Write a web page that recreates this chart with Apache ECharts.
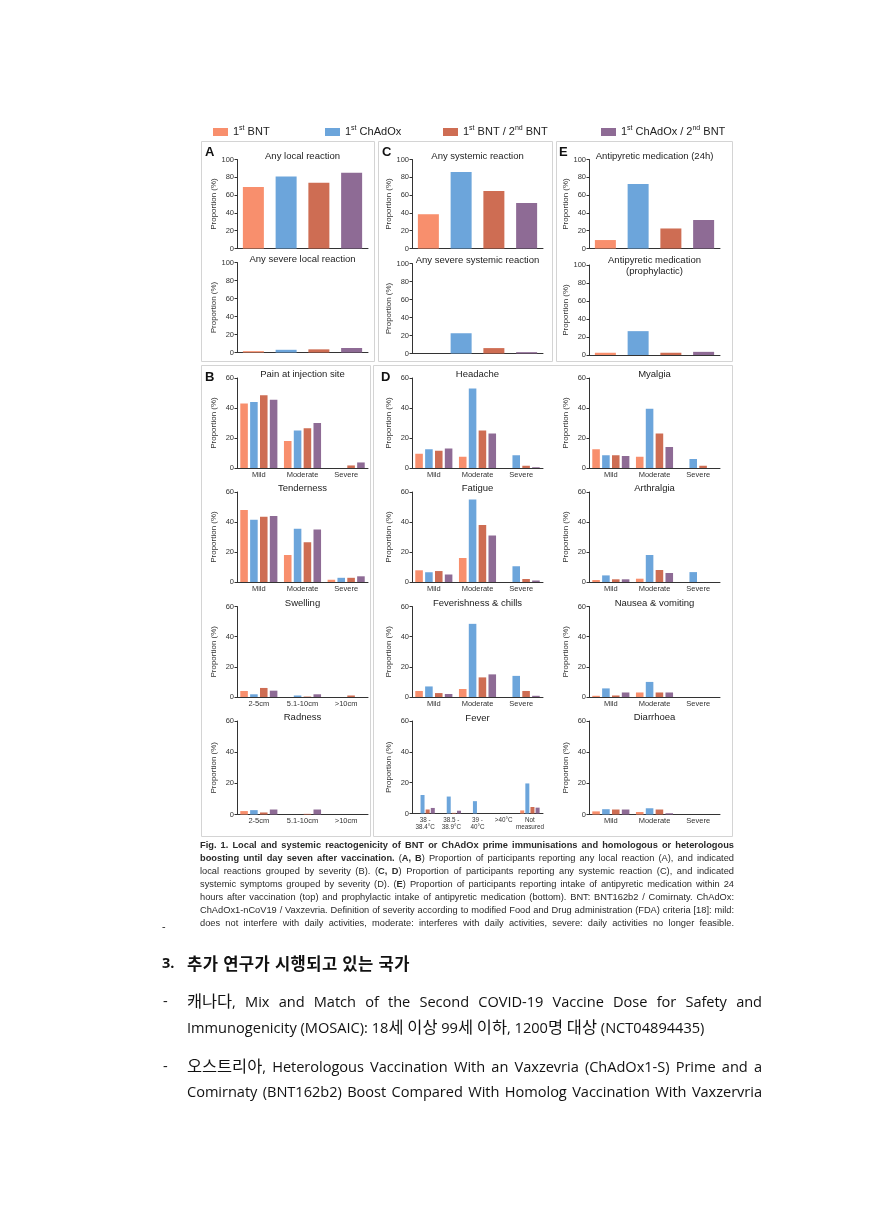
<!DOCTYPE html>
<html><head><meta charset="utf-8">
<script src="https://cdn.jsdelivr.net/npm/echarts@6/dist/echarts.min.js"></script>
<style>
html,body{margin:0;padding:0;background:#fff;}
#chart{position:absolute;left:0;top:0;width:869px;height:1229px;}
.cap{position:absolute;left:200px;width:534px;font-family:"Liberation Sans",Arial,sans-serif;font-size:9.4px;color:#2a2a2a;}
.cap div{height:13px;line-height:13px;text-align:justify;text-align-last:justify;white-space:nowrap;}
.kr{position:absolute;font-family:"Open Sans","Noto Sans CJK KR",sans-serif;color:#111;font-size:14.6px;}
.kr .ln{height:26px;line-height:26px;text-align:justify;text-align-last:justify;white-space:nowrap;}
.kr .last{text-align-last:left;}
.h{font-family:"Noto Sans CJK KR",sans-serif;font-size:16.4px;}
.hd .h{font-size:16.6px;letter-spacing:0.4px;}
</style></head>
<body>
<div id="chart"></div>
<div class="cap" id="cap" style="top:839px">
<div><b>Fig. 1. Local and systemic reactogenicity of BNT or ChAdOx prime immunisations and homologous or heterologous</b></div>
<div><b>boosting until day seven after vaccination.</b> (<b>A, B</b>) Proportion of participants reporting any local reaction (A), and indicated</div>
<div>local reactions grouped by severity (B). (<b>C, D</b>) Proportion of participants reporting any systemic reaction (C), and indicated</div>
<div>systemic symptoms grouped by severity (D). (<b>E</b>) Proportion of participants reporting intake of antipyretic medication within 24</div>
<div>hours after vaccination (top) and prophylactic intake of antipyretic medication (bottom). BNT: BNT162b2 / Comirnaty. ChAdOx:</div>
<div>ChAdOx1-nCoV19 / Vaxzevria. Definition of severity according to modified Food and Drug administration (FDA) criteria [18]: mild:</div>
<div>does not interfere with daily activities, moderate: interferes with daily activities, severe: daily activities no longer feasible.</div>
</div>
<div class="kr" style="left:162px;top:918px;font-size:11px;">-</div>
<div class="kr" style="left:162px;top:950px;font-weight:bold;line-height:26px;font-size:14.5px;">3.</div>
<div class="kr hd" style="left:187px;top:950px;font-weight:bold;line-height:26px;font-size:14.5px;word-spacing:1px;">추가 연구가 시행되고 있는 국가</div>
<div class="kr" style="left:163px;top:987px;line-height:26px;">-</div>
<div class="kr para" style="left:187px;top:987px;width:575px;">
<div class="ln">캐나다, Mix and Match of the Second COVID-19 Vaccine Dose for Safety and</div>
<div class="ln last">Immunogenicity (MOSAIC): 18세 이상 99세 이하, 1200명 대상 (NCT04894435)</div>
</div>
<div class="kr" style="left:163px;top:1052px;line-height:26px;">-</div>
<div class="kr para" style="left:187px;top:1052px;width:575px;">
<div class="ln">오스트리아, Heterologous Vaccination With an Vaxzevria (ChAdOx1-S) Prime and a</div>
<div class="ln">Comirnaty (BNT162b2) Boost Compared With Homolog Vaccination With Vaxzervria</div>
</div>
<script>
// ---------- data ----------
const seriesNames = ['1st BNT', '1st ChAdOx', '1st BNT / 2nd BNT', '1st ChAdOx / 2nd BNT'];
const severityCats = ['Mild', 'Moderate', 'Severe'];
const sizeCats = ['2-5cm', '5.1-10cm', '>10cm'];
const feverCats = ['38 -\n38.4°C', '38.5 -\n38.9°C', '39 -\n40°C', '>40°C', 'Not\nmeasured'];

// single-value panels: [1st BNT, 1st ChAdOx, BNT/BNT, ChAdOx/BNT]
const anyLocal = [69, 81, 74, 85];
const anySevereLocal = [1.5, 3, 3.5, 5];
const anySystemic = [38.5, 86, 64.5, 51];
const anySevereSystemic = [0, 22.5, 6, 1.5];
const antipyretic24h = [9.5, 72.5, 22.5, 32];
const antipyreticProph = [2.5, 26.5, 2.5, 3.5];

// grouped panels: rows = series, columns = categories
const pain = [[43, 18, 0], [44, 25, 0], [48.5, 26.5, 1.7], [45.5, 30, 3.7]];
const tenderness = [[48, 18, 1.5], [41.5, 35.5, 2.8], [43.5, 26.5, 2.8], [44, 35, 3.8]];
const swelling = [[4, 0, 0], [1.8, 1, 0], [6, 0.3, 1], [4.2, 1.8, 0]];
const redness = [[2.2, 0, 0], [2.8, 0, 0], [1.3, 0.4, 0], [3.2, 3.2, 0]];
const headache = [[9.5, 7.5, 0], [12.5, 53, 8.5], [11.5, 25, 1.5], [13, 23, 0.5]];
const fatigue = [[7.8, 16, 0], [6.5, 55, 10.5], [7.3, 38, 2], [5, 31, 1]];
const feverishness = [[4, 5.3, 0], [7, 48.5, 14], [2.6, 13, 4], [2, 15, 0.8]];
const fever = [[0, 0, 0, 0, 2], [12, 11, 8, 0, 19.5], [2.6, 0.4, 0, 0, 4.2], [3.6, 1.8, 0, 0, 3.8]];
const myalgia = [[12.5, 7.5, 0], [8.5, 39.5, 6], [8.5, 23, 1.5], [8, 14, 0]];
const arthralgia = [[1.3, 2.2, 0], [4.4, 18, 6.6], [1.8, 8, 0], [1.8, 6, 0]];
const nausea = [[0.8, 3, 0], [5.7, 10, 0], [1, 3, 0], [3, 3, 0]];
const diarrhoea = [[2, 1.6, 0], [3.4, 4, 0], [3.2, 3.2, 0], [3.2, 0.8, 0]];

// ---------- text fitting (Hangul spans, justified lines) ----------
document.querySelectorAll('.kr').forEach(el => {
  el.innerHTML = el.innerHTML.replace(/[\uAC00-\uD7A3]+/g, m => '<span class="h">' + m + '</span>');
});
function naturalWidth(line) {
  const s = document.createElement('span');
  s.style.whiteSpace = 'nowrap';
  s.innerHTML = line.innerHTML;
  line.innerHTML = '';
  line.appendChild(s);
  const w = s.getBoundingClientRect().width;
  line.innerHTML = s.innerHTML;
  return w;
}
function fitFont(box, width) {
  const base = parseFloat(getComputedStyle(box).fontSize);
  let mx = 0;
  box.querySelectorAll('div').forEach(l => { mx = Math.max(mx, naturalWidth(l)); });
  if (mx > width) box.style.fontSize = (base * width / mx * 0.99) + 'px';
}
function fitSpacing(box, width) {
  box.querySelectorAll('div').forEach(l => {
    const w = naturalWidth(l);
    if (w > width - 2) {
      const n = l.textContent.length;
      l.style.letterSpacing = ((width - 3 - w) / n) + 'px';
    }
  });
}
fitFont(document.getElementById('cap'), 534);
document.querySelectorAll('.para').forEach(p => fitSpacing(p, 575));

// ---------- style / layout ----------
const colors = ['#F88F6D', '#6CA5DB', '#CE6D53', '#8E6B95'];
const FONT = '"Liberation Sans", Arial, sans-serif';
const AX = '#333';
const W = 131;

const panels = [
  {t: 'Any local reaction', x: 237, top: 159.5, bot: 248.5, max: 100, single: anyLocal},
  {t: 'Any severe local reaction', x: 237, top: 262.5, bot: 352.5, max: 100, single: anySevereLocal},
  {t: 'Any systemic reaction', x: 412, top: 159.5, bot: 248.5, max: 100, single: anySystemic},
  {t: 'Any severe systemic reaction', x: 412, top: 263.5, bot: 353.5, max: 100, single: anySevereSystemic},
  {t: 'Antipyretic medication (24h)', x: 589, top: 159.5, bot: 248.5, max: 100, single: antipyretic24h},
  {t: 'Antipyretic medication\n(prophylactic)', x: 589, top: 265, bot: 355, max: 100, single: antipyreticProph, ty: 266},
  {t: 'Pain at injection site', x: 237, top: 378, bot: 468, max: 60, m: pain, cats: severityCats},
  {t: 'Tenderness', x: 237, top: 492, bot: 582, max: 60, m: tenderness, cats: severityCats},
  {t: 'Swelling', x: 237, top: 606.5, bot: 697, max: 60, m: swelling, cats: sizeCats},
  {t: 'Radness', x: 237, top: 721, bot: 814.5, max: 60, m: redness, cats: sizeCats},
  {t: 'Headache', x: 412, top: 378, bot: 468, max: 60, m: headache, cats: severityCats},
  {t: 'Fatigue', x: 412, top: 492, bot: 582, max: 60, m: fatigue, cats: severityCats},
  {t: 'Feverishness & chills', x: 412, top: 606.5, bot: 697, max: 60, m: feverishness, cats: severityCats},
  {t: 'Fever', x: 412, top: 721, bot: 813.5, max: 60, m: fever, cats: feverCats, ty: 718},
  {t: 'Myalgia', x: 589, top: 378, bot: 468, max: 60, m: myalgia, cats: severityCats},
  {t: 'Arthralgia', x: 589, top: 492, bot: 582, max: 60, m: arthralgia, cats: severityCats},
  {t: 'Nausea & vomiting', x: 589, top: 606.5, bot: 697, max: 60, m: nausea, cats: severityCats},
  {t: 'Diarrhoea', x: 589, top: 721, bot: 814.5, max: 60, m: diarrhoea, cats: severityCats}
];

const grid = [], xAxis = [], yAxis = [], series = [], graphic = [];

// panel boxes
[[201, 141, 173, 220], [378, 141, 174, 220], [556, 141, 176, 220], [201, 365, 169, 471], [373, 365, 359, 471]].forEach(b => {
  graphic.push({type: 'rect', shape: {x: b[0] + 0.5, y: b[1] + 0.5, width: b[2], height: b[3]},
    style: {fill: 'none', stroke: '#d4d4d4', lineWidth: 1}, silent: true});
});
[['A', 205, 152], ['C', 382, 152], ['E', 559, 152], ['B', 205, 377], ['D', 381, 377]].forEach(l => {
  graphic.push({type: 'text', x: l[1], y: l[2], style: {text: l[0], font: 'bold 13px ' + FONT, fill: '#111', textVerticalAlign: 'middle'}, silent: true});
});

panels.forEach((p, gi) => {
  grid.push({left: p.x, top: p.top, width: W, height: p.bot - p.top, outerBoundsMode: 'none', containLabel: false});
  const single = !!p.single;
  xAxis.push({
    type: 'category', gridIndex: gi, data: single ? seriesNames : p.cats,
    axisLine: {lineStyle: {color: AX, width: 1}}, axisTick: {show: false},
    axisLabel: {show: !single, fontSize: p.cats === feverCats ? 6.3 : 7.5, color: '#333', fontFamily: FONT, margin: 3, lineHeight: 7.5, interval: 0}
  });
  yAxis.push({
    type: 'value', gridIndex: gi, min: 0, max: p.max, interval: 20,
    name: 'Proportion (%)', nameLocation: 'middle', nameRotate: 90, nameGap: 19,
    nameTextStyle: {fontSize: 8, color: '#333', fontFamily: FONT},
    axisLine: {show: true, lineStyle: {color: AX, width: 1}},
    axisTick: {show: true, length: 2.5, lineStyle: {color: AX}},
    axisLabel: {fontSize: 7.5, color: '#333', fontFamily: FONT, margin: 3},
    splitLine: {show: false}
  });
  graphic.push({type: 'text', x: p.x + W / 2, y: p.ty || (p.top - 3.5),
    style: {text: p.t, font: '9.5px ' + FONT, fill: '#222', textAlign: 'center', textVerticalAlign: 'middle', lineHeight: 11}, silent: true});
  seriesNames.forEach((name, si) => {
    if (single) {
      series.push({type: 'bar', name, xAxisIndex: gi, yAxisIndex: gi, barWidth: 21, barGap: '-100%',
        itemStyle: {color: colors[si]},
        data: seriesNames.map((_, j) => j === si ? p.single[si] : '-')});
    } else {
      const fv = p.cats === feverCats;
      series.push({type: 'bar', name, xAxisIndex: gi, yAxisIndex: gi,
        barGap: fv ? '28%' : '30%', barCategoryGap: fv ? '26%' : '15%',
        itemStyle: {color: colors[si]}, data: p.m[si]});
    }
  });
});

const legendX = [208, 320, 438, 596];
const legend = seriesNames.map((n, i) => ({
  data: [n], left: legendX[i], top: 120, itemWidth: 15, itemHeight: 8, itemGap: 0,
  icon: 'rect', selectedMode: false,
  formatter: s => s.replace(/(\d)(st|nd)/g, '$1{s|$2}'),
  textStyle: {fontSize: 11, color: '#222', fontFamily: FONT, lineHeight: 14,
    rich: {s: {fontSize: 7, lineHeight: 14, verticalAlign: 'top', fontFamily: FONT, color: '#222'}}}
}));

const chart = echarts.init(document.getElementById('chart'), null, {renderer: 'canvas'});
chart.setOption({
  animation: false, backgroundColor: '#fff', color: colors,
  legend, grid, xAxis, yAxis, series, graphic
});
</script>
</body></html>
